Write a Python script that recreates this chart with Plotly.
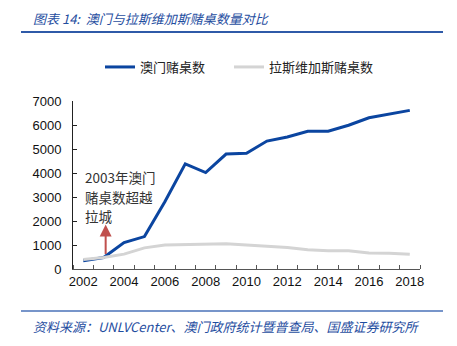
import plotly.graph_objects as go

years = list(range(2002, 2019))
macau_tables = [340, 480, 1100, 1350, 2800, 4380, 4020, 4790, 4820, 5330, 5500, 5740, 5740, 5990, 6300, 6450, 6610]
vegas_tables = [400, 480, 620, 880, 1000, 1010, 1010, 1050, 1000, 950, 900, 800, 760, 760, 670, 660, 610]
x_tick_years = [2002, 2004, 2006, 2008, 2010, 2012, 2014, 2016, 2018]
y_ticks = [0, 1000, 2000, 3000, 4000, 5000, 6000, 7000]

title_text = "图表 14:  澳门与拉斯维加斯赌桌数量对比"
source_text = "资料来源：UNLVCenter、澳门政府统计暨普查局、国盛证券研究所"
note_lines = ["2003年澳门", "赌桌数超越", "拉城"]

L, R, T, B = 73, 37, 101, 77
W, H = 457, 346
pw, ph = W - L - R, H - T - B

def px(xp):
    return (xp - L) / pw

def py(yp):
    return (H - B - yp) / ph

CJK = "Noto Sans CJK SC"
BLUE_TXT = "#1f4e9f"

fig = go.Figure()
fig.add_trace(go.Scatter(x=years, y=macau_tables, mode="lines", name="澳门赌桌数",
                         line=dict(color="#0b45a0", width=3), legend="legend"))
fig.add_trace(go.Scatter(x=years, y=vegas_tables, mode="lines", name="拉斯维加斯赌桌数",
                         line=dict(color="#d4d4d4", width=3), legend="legend2"))

leg_common = dict(orientation="h", xanchor="left", y=py(67), yanchor="middle",
                  font=dict(family=CJK, size=13, color="#222"), bgcolor="rgba(0,0,0,0)")

fig.update_layout(
    width=W, height=H,
    margin=dict(l=L, r=R, t=T, b=B),
    paper_bgcolor="white", plot_bgcolor="white",
    font=dict(family="Liberation Sans, Arial", color="#111", size=13),
    showlegend=True,
    legend=dict(x=px(100), **leg_common),
    legend2=dict(x=px(229), **leg_common),
    xaxis=dict(range=[2001.5, 2018.5], tickmode="array", tickvals=x_tick_years,
               ticktext=[str(v) for v in x_tick_years], ticks="", showgrid=False,
               zeroline=False, showline=True, linecolor="#555", linewidth=1,
               tickfont=dict(size=13, color="#111"),
               minor=dict(tick0=2001.5, dtick=1, ticks="inside", ticklen=4,
                          tickcolor="#555", tickwidth=1, showgrid=False)),
    yaxis=dict(range=[0, 7000], tickmode="array", tickvals=y_ticks, ticks="inside",
               ticklen=4, tickcolor="#222", showgrid=False, zeroline=False,
               showline=True, linecolor="#222", linewidth=1, ticklabelstandoff=8,
               tickfont=dict(size=13, color="#111")),
)

# arrow from Macau 2003 value upward
fig.add_annotation(x=years[1] + 0.1, y=1850, ax=years[1] + 0.1, ay=macau_tables[1] + 80,
                   xref="x", yref="y", axref="x", ayref="y", text="", showarrow=True,
                   arrowhead=2, arrowsize=1.2, arrowwidth=2, arrowcolor="#c0504d")
for i, line in enumerate(note_lines):
    fig.add_annotation(x=px(84), y=py(177 + 19.5 * i), xref="paper", yref="paper",
                       xanchor="left", yanchor="middle", align="left", text=line,
                       showarrow=False, borderpad=0,
                       font=dict(family=CJK, size=13.5, color="#333"))

fig.add_annotation(x=px(31), y=py(18), xref="paper", yref="paper", xanchor="left",
                   yanchor="middle", text="<i>" + title_text + "</i>", showarrow=False,
                   font=dict(family=CJK, size=13, color=BLUE_TXT))
fig.add_annotation(x=px(31), y=py(326), xref="paper", yref="paper", xanchor="left",
                   yanchor="middle", text="<i>" + source_text + "</i>", showarrow=False,
                   font=dict(family=CJK, size=13, color=BLUE_TXT))

fig.add_shape(type="line", xref="paper", yref="paper", x0=px(21), x1=px(443),
              y0=py(32), y1=py(32), line=dict(color="#2f5aa8", width=2))
fig.add_shape(type="line", xref="paper", yref="paper", x0=px(21), x1=px(443),
              y0=py(311), y1=py(311), line=dict(color="#4a72b8", width=1.5))

fig.write_html("out.html")
